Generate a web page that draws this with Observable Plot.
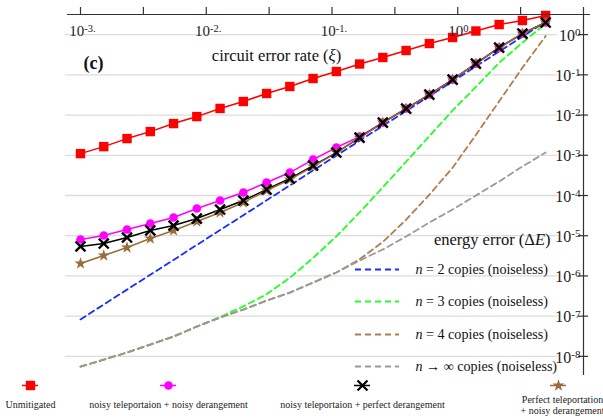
<!DOCTYPE html>
<html><head><meta charset="utf-8">
<script src="https://cdn.jsdelivr.net/npm/d3@7"></script>
<script src="https://cdn.jsdelivr.net/npm/@observablehq/plot@0.6"></script>
<style>html,body{margin:0;padding:0;background:#fff;} svg{display:block;}</style>
</head><body>
<script>
// circuit error rate xi (21 points)
const xi = [0.001, 0.001531, 0.002344, 0.003589, 0.005495, 0.008414, 0.01288, 0.01972, 0.0302, 0.0462, 0.07071, 0.1083, 0.1657, 0.2537, 0.3884, 0.5946, 0.9103, 1.394, 2.134, 3.267, 5.0];
// energy error series
const unmitigated = [1.10e-3, 1.64e-3, 2.60e-3, 3.88e-3, 6.14e-3, 9.16e-3, 1.46e-2, 2.17e-2, 3.44e-2, 5.13e-2, 8.11e-2, 0.121, 0.186, 0.270, 0.402, 0.600, 0.847, 1.23, 1.78, 2.24, 2.99];
const noisyNoisy = [8.05e-6, 1.01e-5, 1.43e-5, 2.01e-5, 2.83e-5, 4.74e-5, 7.50e-5, 1.19e-4, 2.10e-4, 3.72e-4, 7.83e-4, 1.56e-3, 2.92e-3, 6.50e-3, 1.45e-2, 3.23e-2, 7.62e-2, 0.190, 0.475, 1.06, 2.0];
const noisyPerfect = [5.40e-6, 6.40e-6, 9.02e-6, 1.35e-5, 1.79e-5, 2.67e-5, 4.48e-5, 7.50e-5, 1.41e-4, 2.64e-4, 5.56e-4, 1.17e-3, 2.75e-3, 6.50e-3, 1.45e-2, 3.23e-2, 7.62e-2, 0.190, 0.475, 1.06, 2.0];
const perfectNoisy = [2.04e-6, 3.22e-6, 5.09e-6, 8.51e-6, 1.35e-5, 2.25e-5, 3.77e-5, 6.68e-5, 1.33e-4, 2.49e-4, 5.25e-4, 1.17e-3, 2.75e-3, 6.50e-3, 1.45e-2, 3.23e-2, 7.62e-2, 0.190, 0.475, 1.06, 2.0];
// noiseless n-copy curves
const n2 = [8.3e-8, 1.95e-7, 4.57e-7, 1.07e-6, 2.5e-6, 5.9e-6, 1.38e-5, 3.23e-5, 7.6e-5, 1.78e-4, 4.2e-4, 9.8e-4, 2.3e-3, 5.4e-3, 1.26e-2, 2.95e-2, 6.9e-2, 0.162, 0.38, 0.89, 2.09];
const n3 = [5.57e-9, 8.3e-9, 1.25e-8, 1.97e-8, 3.11e-8, 5.52e-8, 9.5e-8, 1.75e-7, 3.5e-7, 9.0e-7, 2.8e-6, 9.6e-6, 3.8e-5, 1.6e-4, 6.9e-4, 3.0e-3, 1.3e-2, 5.0e-2, 0.20, 0.63, 1.88];
const n4 = [5.57e-9, 8.3e-9, 1.25e-8, 1.97e-8, 3.11e-8, 5.52e-8, 9.2e-8, 1.46e-7, 2.44e-7, 3.86e-7, 6.85e-7, 1.22e-6, 2.6e-6, 7.0e-6, 2.5e-5, 1.05e-4, 4.9e-4, 3.2e-3, 2.2e-2, 0.15, 0.92];
const nInf = [5.57e-9, 8.3e-9, 1.25e-8, 1.97e-8, 3.11e-8, 5.52e-8, 9.2e-8, 1.46e-7, 2.44e-7, 3.86e-7, 6.85e-7, 1.22e-6, 2.42e-6, 4.54e-6, 9.55e-6, 2.13e-5, 4.48e-5, 9.98e-5, 2.23e-4, 5.26e-4, 1.17e-3];

// ticks and labels
const xTickValues = [1e-3, 10 ** -2.5, 1e-2, 10 ** -1.5, 1e-1, 10 ** -0.5, 1, 10 ** 0.5, 10];
const xLabelValues = [1e-3, 1e-2, 1e-1, 1];
const xTickLabels = ["10^-3.", "10^-2.", "10^-1.", "10^0."];
const yTickValues = [1, 1e-1, 1e-2, 1e-3, 1e-4, 1e-5, 1e-6, 1e-7, 1e-8];
const yTickLabels = ["10^0", "10^-1", "10^-2", "10^-3", "10^-4", "10^-5", "10^-6", "10^-7", "10^-8"];

const seriesNames = ["Unmitigated", "noisy teleportaion + noisy derangement", "noisy teleportaion + perfect derangement", "Perfect teleportation\n+ noisy derangement"];
const curveNames = ["{i:n} = 2 copies (noiseless)", "{i:n} = 3 copies (noiseless)", "{i:n} = 4 copies (noiseless)", "{i:n} → ∞ copies (noiseless)"];

// ---- layout helpers (pixel -> data) ----
const W = 603, H = 420, ML = 80, MR = 20, MT = 14, MB = 44;
const decX = (W - ML - MR) / 4;               // x: 1e-3 .. 1e1
const decY = (H - MT - MB) / 9;               // y: 10^-8.5 .. 10^0.5
const X = px => 10 ** ((px - ML) / decX - 3);
const Y = py => 10 ** (0.5 - (py - MT) / decY);

const rows = arr => xi.map((x, i) => ({x, y: arr[i]}));

const colors = {red: "#ff0000", mag: "#ff00ff", blk: "#000000", brn: "#9c6b3a",
  blue: "#1a2cff", green: "#22ff22", brnD: "#b07e4c", gray: "#9a9a9a"};
const dash = "6,4";

const curves = [[n2, colors.blue], [n3, colors.green], [n4, colors.brnD], [nInf, colors.gray]];

// inner legend layout
const innerY = [269, 301, 334, 366];
// bottom legend layout
const botX = [30, 168, 362, 558];
const botSym = [["square", colors.red, 5.3], ["circle", colors.mag, 4.3], ["times", colors.blk, 4.6], ["star", colors.brn, 3.8]];

const marks = [
  // grid
  Plot.ruleY(yTickValues, {x1: X(65), x2: X(557), stroke: "#dcdcdc", strokeWidth: 1.3}),
  // dashed noiseless curves
  ...curves.map(([arr, c]) => Plot.line(rows(arr), {x: "x", y: "y", stroke: c, strokeWidth: 1.8, strokeDasharray: dash})),
  // unmitigated
  Plot.line(rows(unmitigated), {x: "x", y: "y", stroke: colors.red, strokeWidth: 1.5}),
  Plot.dot(rows(unmitigated), {x: "x", y: "y", symbol: "square", r: 5.3, fill: colors.red}),
  // noisy + noisy
  Plot.line(rows(noisyNoisy), {x: "x", y: "y", stroke: colors.mag, strokeWidth: 1.5}),
  Plot.dot(rows(noisyNoisy), {x: "x", y: "y", symbol: "circle", r: 4.3, fill: colors.mag}),
  // noisy + perfect
  Plot.line(rows(noisyPerfect), {x: "x", y: "y", stroke: colors.blk, strokeWidth: 1.5}),
  // perfect + noisy
  Plot.line(rows(perfectNoisy), {x: "x", y: "y", stroke: colors.brn, strokeWidth: 1.5}),
  Plot.dot(rows(perfectNoisy), {x: "x", y: "y", symbol: "star", r: 3.8, fill: colors.brn}),
  Plot.dot(rows(noisyPerfect), {x: "x", y: "y", symbol: "times", r: 4.6, stroke: colors.blk, strokeWidth: 2.4}),
  // top axis
  Plot.ruleY([10 ** 0.5], {x1: X(67), x2: X(590), stroke: "#333", strokeWidth: 1.2}),
  Plot.ruleX(xTickValues, {y1: Y(7), y2: Y(14), stroke: "#333", strokeWidth: 1.2}),
  Plot.text(xLabelValues, {x: d => d, y: Y(31), dx: 2, text: (d, i) => xTickLabels[i], fontSize: 15, fill: "#222"}),
  // right axis
  Plot.ruleX([10], {y1: Y(14), y2: Y(375), stroke: "#333", strokeWidth: 1.2}),
  Plot.ruleY(yTickValues, {x1: X(578), x2: X(588), stroke: "#333", strokeWidth: 1.2}),
  Plot.text(yTickValues, {x: X(580), y: d => d, dy: 1, text: (d, i) => yTickLabels[i], textAnchor: "end", fontSize: 16, fill: "#222"}),
  // titles
  Plot.text(["circuit error rate ({i:ξ})"], {x: X(276), y: Y(55), text: d => d, fontSize: 16.5, fill: "#111"}),
  Plot.text(["(c)"], {x: X(93), y: Y(63), text: d => d, fontSize: 18, fontWeight: "bold", fill: "#111"}),
  // inner legend
  Plot.text(["energy error (Δ{i:E})"], {x: X(550), y: Y(239), text: d => d, textAnchor: "end", fontSize: 16.5, fill: "#111"}),
  ...curves.map(([arr, c], i) => Plot.ruleY([Y(innerY[i])], {x1: X(355), x2: X(399), stroke: c, strokeWidth: 1.8, strokeDasharray: dash})),
  Plot.text(curveNames, {x: X(415), y: (d, i) => Y(innerY[i]), text: d => d, textAnchor: "start", fontSize: 14.1, fill: "#111"}),
  // bottom legend
  ...botSym.map(([s, c, r], i) => Plot.ruleY([Y(385)], {x1: X(botX[i] - 8), x2: X(botX[i] + 8), stroke: c, strokeWidth: 1.5})),
  ...botSym.map(([s, c, r], i) => Plot.dot([0], {x: X(botX[i]), y: Y(385), symbol: s, r, ...(s === "times" ? {stroke: c, strokeWidth: 2.2} : {fill: c})})),
  Plot.text(seriesNames, {x: (d, i) => X(botX[i] + (i === 3 ? 4 : 0)), y: Y(404), text: d => d, lineAnchor: "middle", fontSize: 10, fill: "#222", lineHeight: 1.1})
];

const chart = Plot.plot({
  width: W, height: H,
  marginLeft: ML, marginRight: MR, marginTop: MT, marginBottom: MB,
  x: {type: "log", domain: [1e-3, 10], label: null, axis: null},
  y: {type: "log", domain: [10 ** -8.5, 10 ** 0.5], label: null, axis: null},
  style: {fontFamily: "'Liberation Serif', 'Times New Roman', serif", background: "#fff", overflow: "visible"},
  marks
});

// rich text: ^ -> superscript, {i:..} -> italic
function rich(el) {
  const txt = el.textContent;
  if (!/[\^{]/.test(txt)) return;
  const parts = [];
  const re = /\{i:([^}]*)\}|\^(\S*)|([^{^]+)/g;
  let m;
  while ((m = re.exec(txt))) {
    if (m[1] !== undefined) parts.push({t: m[1], italic: true});
    else if (m[2] !== undefined) parts.push({t: m[2], sup: true});
    else parts.push({t: m[3]});
  }
  el.textContent = "";
  for (const p of parts) {
    const ts = document.createElementNS("http://www.w3.org/2000/svg", "tspan");
    ts.textContent = p.t;
    if (p.italic) ts.setAttribute("font-style", "italic");
    if (p.sup) { ts.setAttribute("dy", "-0.42em"); ts.setAttribute("font-size", "70%"); }
    el.appendChild(ts);
  }
}
chart.querySelectorAll("text").forEach(t => {
  if (t.querySelector("tspan")) t.querySelectorAll("tspan").forEach(rich); else rich(t);
});
document.body.appendChild(chart);
</script>
</body></html>
